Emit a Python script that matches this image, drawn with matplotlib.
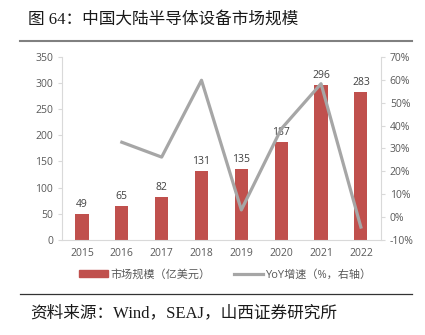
import matplotlib
matplotlib.use("Agg")
import matplotlib.pyplot as plt
from matplotlib.lines import Line2D

plt.rcParams['font.family'] = ['Open Sans', 'Noto Sans CJK SC', 'DejaVu Sans']

years = ["2015", "2016", "2017", "2018", "2019", "2020", "2021", "2022"]
market = [49, 65, 82, 131, 135, 187, 296, 283]
yoy_years = ["2016", "2017", "2018", "2019", "2020", "2021", "2022"]
yoy = [32.7, 26.2, 59.8, 3.1, 38.5, 58.3, -4.4]

bar_color = "#C0504D"
line_color = "#A6A6A6"
text_color = "#595959"
spine_color = "#D9D9D9"

fig = plt.figure(figsize=(4.25, 3.35), dpi=100)
ax = fig.add_axes([0.146, 0.284, 0.750, 0.546])
x = list(range(len(years)))
bars = ax.bar(x, market, width=0.33, color=bar_color, zorder=2)
for xi, v in zip(x, market):
    ax.annotate(str(v), (xi, v), xytext=(0, 3), textcoords="offset points",
                ha="center", va="bottom", fontsize=7.5, color="#404040", zorder=5)
ax.set_ylim(0, 350)
ax.set_yticks(range(0, 351, 50))
ax.set_xlim(-0.5, 7.5)
ax.set_xticks(x)
ax.set_xticklabels(years)
ax.tick_params(axis="both", labelsize=7.5, colors=text_color, length=3, color=spine_color)
ax.tick_params(axis="x", length=0, pad=6)
for s in ["top", "right"]:
    ax.spines[s].set_visible(False)
for s in ["left", "bottom"]:
    ax.spines[s].set_color(spine_color)

ax2 = ax.twinx()
xl = [years.index(y) for y in yoy_years]
ax2.plot(xl, yoy, color=line_color, lw=2.3, zorder=3)
ax2.set_ylim(-10, 70)
ax2.set_yticks(range(-10, 71, 10))
ax2.set_yticklabels([f"{t}%" for t in range(-10, 71, 10)])
ax2.tick_params(axis="y", labelsize=7.5, colors=text_color, length=3, color=spine_color)
for s in ["top", "left", "bottom"]:
    ax2.spines[s].set_visible(False)
ax2.spines["right"].set_color(spine_color)

handles = [plt.Rectangle((0, 0), 1, 1, color=bar_color),
           Line2D([0], [0], color=line_color, lw=2.3)]
labels = ["市场规模（亿美元）", "YoY增速（%，右轴）"]
fig.legend(handles, labels, loc="center", bbox_to_anchor=(0.53, 0.178), ncol=2,
           frameon=False, fontsize=8, labelcolor=text_color, handlelength=2.6,
           handleheight=0.6, columnspacing=2.2, handletextpad=0.15)

fig.text(0.066, 0.94, "图 64：中国大陆半导体设备市场规模", fontsize=12,
         family=['Liberation Serif', 'Noto Sans CJK SC'], color="#1a1a1a", va="center")
fig.text(0.07, 0.065, "资料来源：Wind，SEAJ，山西证券研究所", fontsize=12,
         family=['Liberation Serif', 'Noto Sans CJK SC'], color="#1a1a1a", va="center")
fig.add_artist(Line2D([0.047, 0.97], [0.877, 0.877], color="#808080", lw=1.5))
fig.add_artist(Line2D([0.047, 0.97], [0.122, 0.122], color="#333333", lw=0.9))

fig.savefig("out.png", dpi=100)
